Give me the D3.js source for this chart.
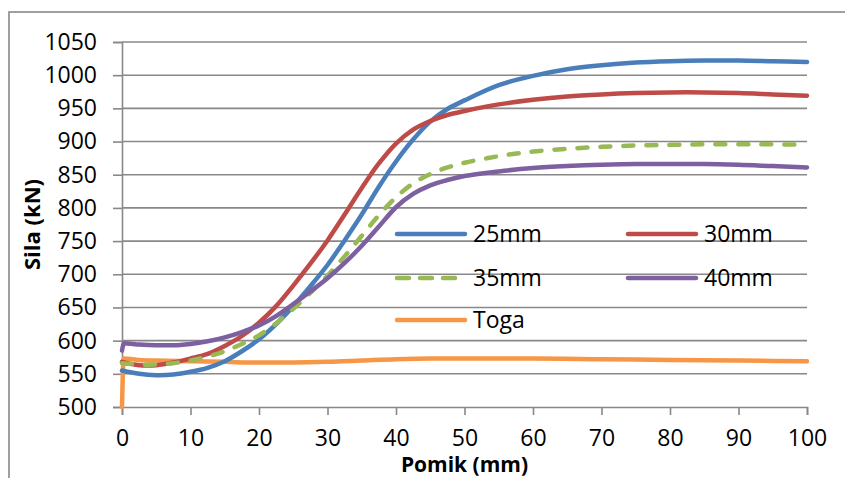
<!DOCTYPE html>
<html>
<head>
<meta charset="utf-8">
<script src="https://cdn.jsdelivr.net/npm/d3@7"></script>
<style>
  html, body { margin: 0; padding: 0; background: #fff; }
  svg { display: block; }
  text { font-family: "Open Sans", sans-serif; fill: #000; }
</style>
</head>
<body>
<svg id="chart" width="845" height="478"></svg>
<script>
// ---- data ----
const xTicks = [0, 10, 20, 30, 40, 50, 60, 70, 80, 90, 100];
const yTicks = [500, 550, 600, 650, 700, 750, 800, 850, 900, 950, 1000, 1050];
const seriesNames = ["25mm", "30mm", "35mm", "40mm", "Toga"];

const xStd = [0, 2.5, 5, 7.5, 10, 12.5, 15, 17.5, 20, 22.5, 25, 27.5, 30, 32.5, 35, 37.5, 40, 42.5, 45, 47.5, 50, 55, 60, 65, 70, 75, 80, 85, 90, 95, 100];
const y25 = [555, 550, 548, 549, 553, 559, 569, 584, 602, 625, 652, 682, 714, 751, 790, 832, 870, 903, 930, 949, 962, 985, 999, 1009, 1015, 1019, 1021, 1022, 1022, 1021, 1020];
const y30 = [568, 563, 563, 567, 573, 580, 592, 607, 627, 652, 683, 716, 751, 790, 830, 867, 897, 918, 931, 940, 946, 956, 963, 968, 971, 973, 974, 974, 973, 971, 969];
const y35 = [566, 564, 564, 566, 570, 576, 584, 595, 608, 626, 648, 672, 698, 727, 758, 789, 816, 837, 851, 861, 868, 878, 885, 889, 892, 894, 895, 896, 896, 896, 895];
const x40 = [0, 0.3, 2.5, 5, 7.5, 10, 12.5, 15, 17.5, 20, 22.5, 25, 27.5, 30, 32.5, 35, 37.5, 40, 42.5, 45, 47.5, 50, 55, 60, 65, 70, 75, 80, 85, 90, 95, 100];
const y40 = [585, 596, 594, 593, 593, 595, 599, 605, 613, 623, 637, 655, 674, 694, 717, 743, 772, 801, 821, 834, 842, 848, 855, 860, 863, 865, 866, 866, 866, 865, 863, 861];
const xToga = [0, 0.25, 2.5, 5, 10, 15, 20, 25, 30, 35, 40, 45, 50, 55, 60, 70, 80, 90, 100];
const yToga = [500, 573, 571, 570, 569, 568, 567, 567, 568, 570, 572, 573, 573, 573, 573, 572, 571, 570, 569];

const colors = ["#4A7EBB", "#BE4B48", "#98B954", "#7D60A0", "#F79646"];

// ---- layout ----
const svg = d3.select("#chart");
const pLeft = 122, pRight = 807, pTop = 42, pBottom = 407;

const x = d3.scaleLinear().domain([0, 100]).range([pLeft, pRight]);
const y = d3.scaleLinear().domain([500, 1050]).range([pBottom, pTop]);

// outer chart border
svg.append("rect").attr("x", 9).attr("y", 12).attr("width", 900).attr("height", 600)
  .attr("fill", "#fff").attr("stroke", "#888").attr("stroke-width", 1.6);

// gridlines + y axis
const yAxis = d3.axisLeft(y).tickValues(yTicks).tickSize(9).tickPadding(16).tickFormat(d3.format("d"));
const gy = svg.append("g").attr("transform", `translate(${pLeft},0)`).call(yAxis);
gy.select(".domain").attr("stroke", "#888").attr("stroke-width", 1.6);
gy.selectAll(".tick line").attr("stroke", "#888").attr("stroke-width", 1.6);
gy.selectAll(".tick text").attr("font-size", 23).attr("font-family", "Open Sans").attr("fill", "#000");

svg.append("g").selectAll("line").data(yTicks.slice(1)).join("line")
  .attr("x1", pLeft).attr("x2", pRight)
  .attr("y1", d => y(d)).attr("y2", d => y(d))
  .attr("stroke", "#888").attr("stroke-width", 1.6);

const xAxis = d3.axisBottom(x).tickValues(xTicks).tickSize(8).tickPadding(15).tickFormat(d3.format("d"));
const gx = svg.append("g").attr("transform", `translate(0,${pBottom})`).call(xAxis);
gx.select(".domain").attr("stroke", "#888").attr("stroke-width", 1.6);
gx.selectAll(".tick line").attr("stroke", "#888").attr("stroke-width", 1.6);
gx.selectAll(".tick text").attr("font-size", 23).attr("font-family", "Open Sans").attr("fill", "#000");

// axis titles
svg.append("text").attr("x", (pLeft + pRight) / 2).attr("y", 472)
  .attr("text-anchor", "middle").attr("font-size", 21).attr("font-weight", "bold")
  .text("Pomik (mm)");
svg.append("text").attr("transform", `translate(39.5,${(pTop + pBottom) / 2}) rotate(-90)`)
  .attr("text-anchor", "middle").attr("font-size", 22).attr("font-weight", "bold")
  .text("Sila (kN)");

// ---- lines ----
const smooth = d3.line().x(d => x(d[0])).y(d => y(d[1])).curve(d3.curveCatmullRom.alpha(0.5));
const mono = d3.line().x(d => x(d[0])).y(d => y(d[1])).curve(d3.curveMonotoneX);
const series = [
  { xs: xStd, ys: y25, gen: smooth },
  { xs: xStd, ys: y30, gen: smooth },
  { xs: xStd, ys: y35, gen: smooth },
  { xs: x40, ys: y40, gen: mono },
  { xs: xToga, ys: yToga, gen: mono }
];
const order = [4, 0, 1, 2, 3];
order.forEach(i => {
  const s = series[i];
  const pts = s.xs.map((xv, j) => [xv, s.ys[j]]);
  const p = svg.append("path").datum(pts).attr("d", s.gen)
    .attr("fill", "none").attr("stroke", colors[i]).attr("stroke-width", 4.5)
    .attr("stroke-linejoin", "round").attr("stroke-linecap", "round");
  if (i === 2) p.attr("stroke-dasharray", "10,13");
});

// ---- legend ----
const legendPos = [
  { lx: 395, ly: 234 }, { lx: 626, ly: 234 },
  { lx: 395, ly: 278 }, { lx: 626, ly: 278 },
  { lx: 395, ly: 320 }
];
seriesNames.forEach((name, i) => {
  const pos = legendPos[i];
  const l = svg.append("line").attr("x1", pos.lx + 2).attr("x2", pos.lx + 70)
    .attr("y1", pos.ly).attr("y2", pos.ly)
    .attr("stroke", colors[i]).attr("stroke-width", 4.5).attr("stroke-linecap", "round");
  if (i === 2) l.attr("stroke-dasharray", "12,11");
  svg.append("text").attr("x", pos.lx + 78).attr("y", pos.ly + 8)
    .attr("font-size", 23).text(name);
});
</script>
</body>
</html>
